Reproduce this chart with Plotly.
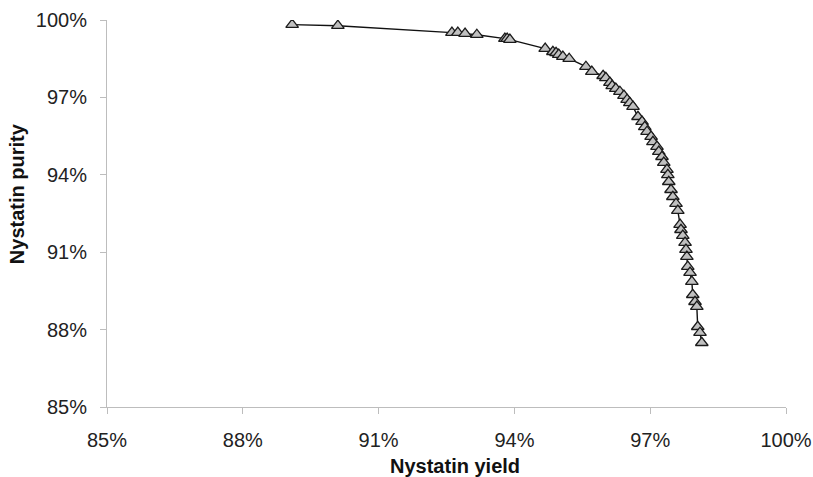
import plotly.graph_objects as go

# Nystatin yield (%) and purity (%)
yield_pct = [89.09, 90.10, 92.62, 92.75, 92.91, 93.17, 93.79, 93.84, 93.90,
             94.68, 94.85, 94.92, 94.98, 95.07, 95.21, 95.58, 95.71, 95.96, 96.02,
             96.11, 96.16, 96.24, 96.33, 96.42, 96.49, 96.55, 96.62,
             96.73, 96.82, 96.88, 96.93, 97.02, 97.06, 97.15, 97.19, 97.26, 97.30,
             97.37, 97.39, 97.41, 97.46, 97.50, 97.57, 97.61, 97.66, 97.68, 97.72,
             97.77, 97.79, 97.81, 97.83, 97.88, 97.92, 97.94, 97.99, 98.03, 98.05,
             98.10, 98.14]
purity_pct = [99.82, 99.78, 99.51, 99.51, 99.47, 99.43, 99.28, 99.28, 99.24,
              98.89, 98.77, 98.73, 98.66, 98.58, 98.50, 98.19, 98.00, 97.84, 97.76,
              97.57, 97.45, 97.34, 97.22, 97.07, 96.91, 96.79, 96.64,
              96.25, 96.06, 95.86, 95.67, 95.48, 95.28, 95.09, 94.90, 94.70, 94.47,
              94.20, 94.00, 93.73, 93.42, 93.15, 92.88, 92.61, 92.07, 91.87, 91.64,
              91.37, 91.10, 90.83, 90.44, 90.21, 89.86, 89.35, 89.08, 88.89, 88.11,
              87.88, 87.49]

tick_vals = [85, 88, 91, 94, 97, 100]
tick_text = ["85%", "88%", "91%", "94%", "97%", "100%"]

x_title = "Nystatin yield"
y_title = "Nystatin purity"

fig = go.Figure()
fig.add_trace(go.Scatter(
    x=yield_pct, y=purity_pct, mode="lines+markers",
    line=dict(color="#111111", width=1.4),
    marker=dict(symbol="triangle-up", size=11, color="#c0c0c0",
                line=dict(color="#1a1a1a", width=1.3)),
    showlegend=False,
))

axis_common = dict(
    tickvals=tick_vals, ticktext=tick_text,
    showgrid=False, zeroline=False, automargin=False,
    showline=True, linecolor="#bdbdbd", linewidth=1,
    ticks="outside", ticklen=6, tickcolor="#bdbdbd", tickwidth=1,
    tickfont=dict(family="Liberation Sans, Arial", size=20, color="#222222"),
)

fig.update_xaxes(range=[85, 100], ticklabelstandoff=9, **axis_common)
fig.update_yaxes(range=[85, 100], ticklabelstandoff=9, **axis_common)

fig.add_annotation(text=x_title, xref="paper", yref="paper", x=0.513, y=0,
                   yshift=-59, xanchor="center", yanchor="middle", showarrow=False,
                   font=dict(family="Liberation Sans, Arial", size=20, color="#111111", weight="bold"))
fig.add_annotation(text=y_title, xref="paper", yref="paper", x=0, y=0.55,
                   xshift=-90, xanchor="center", yanchor="middle", showarrow=False, textangle=-90,
                   font=dict(family="Liberation Sans, Arial", size=20, color="#111111", weight="bold"))

fig.update_layout(
    width=813, height=477,
    margin=dict(l=107, r=27, t=20, b=70),
    paper_bgcolor="white", plot_bgcolor="white",
)

fig.write_html("out.html")
